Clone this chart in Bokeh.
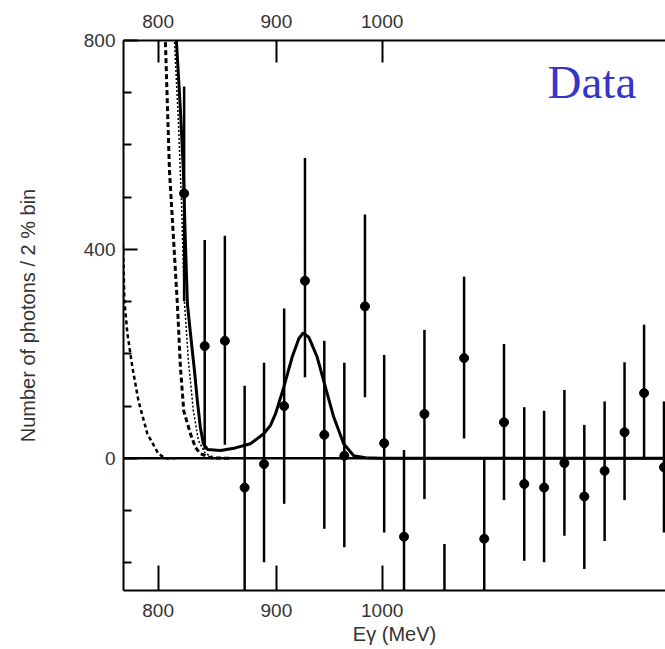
from bokeh.plotting import figure
from bokeh.models import (ColumnDataSource, FixedTicker, LogAxis, Span, Label,
                          PrintfTickFormatter, Range1d)
from bokeh.embed import file_html
from bokeh.resources import INLINE

# ---------------- data ----------------
energy = [821, 838, 855, 872, 889, 907, 926, 944, 963, 983, 1002, 1022, 1043,
          1064, 1085, 1107, 1129, 1152, 1175, 1199, 1223, 1248, 1273, 1298, 1324]
counts = [507, 215, 225, -56, -11, 100, 340, 45, 5, 291, 29, -150, 85,
          -340, 192, -154, 69, -49, -56, -9, -73, -24, 50, 125, -17]
bar_top = [712, 418, 426, 139, 183, 287, 575, 225, 183, 467, 198, 16, 246,
           -164, 348, 0, 219, 98, 91, 131, 64, 109, 184, 256, 109]
bar_bottom = [301, 17, 26, -258, -199, -87, 155, -135, -170, 117, -142, -316, -78,
              -516, 38, -308, -80, -196, -199, -148, -212, -158, -80, 1, -142]

# total fit (solid)
fit_x = [812, 814.7, 818.0, 820.4, 822.0, 823.7, 826.2, 829.5, 831.9, 834.4, 836.9,
         840.3, 851.2, 864.0, 877.0, 888.7, 894.7, 899.2, 906.6, 914.3, 920.3, 924.3,
         929.5, 937.3, 945.1, 952.9, 962.4, 972.1, 983.5, 998.3, 1400]
fit_y = [1000, 800, 666, 551, 417, 296, 239, 168, 110, 59, 28,
         17, 15, 20, 28, 47, 63, 85, 136, 194, 229, 240,
         232, 194, 136, 79, 28, 5, 1, 0, 0]
# background component (coarse dashes)
bg1_x = [804, 805.8, 809.1, 815.5, 818.0, 820.7, 826.2, 830.3, 834.4, 842.8, 859.7]
bg1_y = [950, 800, 551, 296, 174, 91, 47, 21, 9, 1, 0]
# background component (fine dots)
bg2_x = [811, 813.1, 816.3, 818.8, 821.2, 824.5, 828.6, 832.8, 838.6, 847.0, 864.0]
bg2_y = [950, 800, 647, 494, 302, 187, 91, 34, 9, 1, 0]
# left-most component (dashes)
bg3_x = [771.3, 772.8, 773.6, 775.9, 779.8, 784.5, 791.5, 800.2, 805.8, 813.9]
bg3_y = [532, 384, 302, 239, 174, 110, 47, 9, 0, 0]

x_ticks = [800, 900, 1000]
y_major = [0, 400, 800]
y_minor = [-200, -100, 100, 200, 300, 500, 600, 700]

# ---------------- figure ----------------
p = figure(width=665, height=649, x_axis_type="log",
           x_range=Range1d(772.9, 1326), y_range=Range1d(-253, 800),
           output_backend="svg", toolbar_location=None,
           min_border_left=123, min_border_top=40, min_border_right=0,
           min_border_bottom=59)
p.xgrid.visible = False
p.ygrid.visible = False
p.outline_line_color = None
p.background_fill_color = "white"
p.border_fill_color = "white"

FONT = "Liberation Sans"
TXT = "#333333"

def style_axis(ax, tick_in):
    ax.axis_line_color = "black"
    ax.axis_line_width = 2
    ax.major_tick_line_color = "black"
    ax.major_tick_line_width = 2
    ax.major_tick_in = tick_in
    ax.major_tick_out = 0
    ax.minor_tick_line_color = "black"
    ax.minor_tick_line_width = 2
    ax.minor_tick_in = 8
    ax.minor_tick_out = 0
    ax.major_label_text_font = FONT
    ax.major_label_text_font_size = "19px"
    ax.major_label_text_color = TXT
    ax.major_label_standoff = 8
    ax.axis_label_text_font = FONT
    ax.axis_label_text_font_size = "20px"
    ax.axis_label_text_font_style = "normal"
    ax.axis_label_text_color = TXT

xb = p.xaxis[0]
xb.ticker = FixedTicker(ticks=x_ticks)
xb.formatter = PrintfTickFormatter(format="%d")
style_axis(xb, 25)
xb.major_label_standoff = 13
xb.axis_label = "Eγ (MeV)"
xb.axis_label_standoff = 3

xt = LogAxis(ticker=FixedTicker(ticks=x_ticks), formatter=PrintfTickFormatter(format="%d"))
style_axis(xt, 22)
xt.major_label_standoff = 13
p.add_layout(xt, "above")

yl = p.yaxis[0]
yl.ticker = FixedTicker(ticks=y_major, minor_ticks=y_minor)
style_axis(yl, 14)
yl.axis_label = "Number of photons / 2 % bin"
yl.axis_label_standoff = 42

# zero line
p.add_layout(Span(location=0, dimension="width", line_color="black", line_width=2.5))

# curves
p.line(bg3_x, bg3_y, line_color="black", line_width=2.5, line_dash="4 3")
p.line(bg1_x, bg1_y, line_color="black", line_width=3, line_dash="5 3")
p.line(bg2_x, bg2_y, line_color="black", line_width=1.5, line_dash="2 2")
p.line(fit_x, fit_y, line_color="black", line_width=3)

# data points with error bars
src = ColumnDataSource(dict(x=energy, y=counts, top=bar_top, bottom=bar_bottom))
p.segment(x0="x", y0="bottom", x1="x", y1="top", source=src,
          line_color="black", line_width=2.5)
p.scatter(x="x", y="y", source=src, size=9, color="black")

# label
p.add_layout(Label(x=1179, y=720, text="Data", text_font="Liberation Serif",
                   text_font_size="47px", text_color="#3535c8",
                   text_align="left", text_baseline="alphabetic"))

open("out.html", "w").write(file_html(p, INLINE))
